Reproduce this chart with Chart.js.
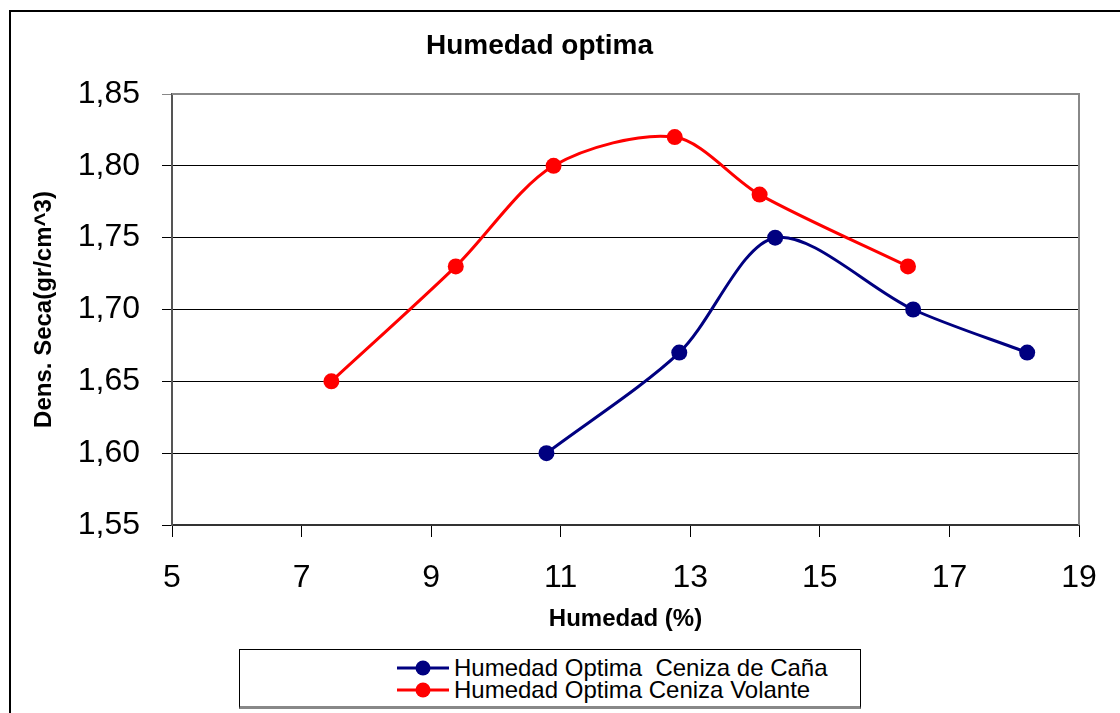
<!DOCTYPE html>
<html>
<head>
<meta charset="utf-8">
<title>Humedad optima</title>
<script src="https://cdn.jsdelivr.net/npm/chart.js@4.4.0/dist/chart.umd.min.js"></script>
<style>
  html, body { margin: 0; padding: 0; background: #fff; width: 1120px; height: 713px; overflow: hidden; }
  #frame  { position: absolute; left: 9px; top: 10px; width: 1200px; height: 800px;
            border-left: 2px solid #000; border-top: 2px solid #000; }
  #wrap   { position: absolute; left: 0; top: 0; width: 1120px; height: 713px; }
  #legend { position: absolute; left: 239px; top: 649px; width: 622px; height: 60px; box-sizing: border-box;
            border: 1px solid #000; border-bottom: 3px solid #888; background: #fff; padding-top: 7px;
            font-family: "Liberation Sans", Arial, sans-serif; font-size: 24px; color: #000; }
  .leg-row { display: flex; align-items: center; height: 22px; padding-left: 157px; white-space: pre; }
  .leg-row svg { margin-right: 5px; flex: none; }
</style>
</head>
<body>
<div id="frame"></div>
<div id="wrap"><canvas id="chart" width="1120" height="713"></canvas></div>
<div id="legend"></div>

<script>
/* ── DATA ───────────────────────────────────────────────────────────── */
const chartTitle  = 'Humedad optima';
const xTitle      = 'Humedad (%)';
const yTitle      = 'Dens. Seca(gr/cm^3)';

const nameCana    = 'Humedad Optima  Ceniza de Caña';
const humCana     = [10.78, 12.83, 14.31, 16.44, 18.2];
const densCana    = [1.60, 1.67, 1.75, 1.70, 1.67];

const nameVolante = 'Humedad Optima Ceniza Volante';
const humVolante  = [7.46, 9.38, 10.89, 12.76, 14.07, 16.36];
const densVolante = [1.65, 1.73, 1.80, 1.82, 1.78, 1.73];

const xTicks      = [5, 7, 9, 11, 13, 15, 17, 19];
const yTicks      = [1.55, 1.60, 1.65, 1.70, 1.75, 1.80, 1.85];

/* ── SETUP ──────────────────────────────────────────────────────────── */
const FONT  = '"Liberation Sans", Arial, sans-serif';
const NAVY  = '#000080';
const RED   = '#ff0000';

const toPts = (xs, ys) => xs.map((x, i) => ({ x, y: ys[i] }));

const series = [
  { label: nameCana,    data: toPts(humCana, densCana),       color: NAVY },
  { label: nameVolante, data: toPts(humVolante, densVolante), color: RED  },
];

// gray frame on the top and right of the plot area
const plotFrame = {
  id: 'plotFrame',
  beforeDatasetsDraw(chart) {
    const { ctx, chartArea: a } = chart;
    ctx.save();
    ctx.strokeStyle = '#888';
    ctx.lineWidth = 2;
    ctx.beginPath();
    ctx.moveTo(a.left, a.top);
    ctx.lineTo(a.right, a.top);
    ctx.lineTo(a.right, a.bottom);
    ctx.stroke();
    ctx.restore();
  },
};

new Chart(document.getElementById('chart'), {
  type: 'scatter',
  data: {
    datasets: series.map(s => ({
      label: s.label,
      data: s.data,
      showLine: true,
      borderColor: s.color,
      backgroundColor: s.color,
      borderWidth: 3,
      tension: 0.3,
      pointRadius: 8,
      pointBorderWidth: 0,
      pointHoverRadius: 8,
    })),
  },
  options: {
    responsive: false,
    animation: false,
    layout: { padding: { left: 0, right: 41, top: 0, bottom: 0 } },
    plugins: {
      legend: { display: false },
      tooltip: { enabled: false },
      title: {
        display: true,
        text: chartTitle,
        color: '#000',
        font: { family: FONT, size: 28, weight: 'bold' },
        padding: { top: 29, bottom: 31.4 },
      },
    },
    scales: {
      x: {
        type: 'linear',
        min: xTicks[0], max: xTicks[xTicks.length - 1],
        afterBuildTicks: s => { s.ticks = xTicks.map(v => ({ value: v })); },
        afterFit: s => { s.height = 188; },
        ticks: { color: '#000', padding: 22, font: { family: FONT, size: 32 }, maxRotation: 0 },
        grid: { drawOnChartArea: false, drawTicks: true, tickLength: 12, color: '#000' },
        border: { display: true, color: '#333', width: 2 },
        title: {
          display: true, text: xTitle, color: '#000',
          font: { family: FONT, size: 24, weight: 'bold' },
          padding: { top: 0, bottom: 79 },
        },
      },
      y: {
        type: 'linear',
        min: yTicks[0], max: yTicks[yTicks.length - 1],
        afterBuildTicks: s => { s.ticks = yTicks.map(v => ({ value: v })); },
        afterFit: s => { s.width = 172; },
        ticks: {
          color: '#000', padding: 22, font: { family: FONT, size: 32 },
          callback: v => v.toFixed(2).replace('.', ','),
        },
        grid: {
          tickLength: 10, lineWidth: 1,
          color: c => (c.tick && c.tick.value >= yTicks[yTicks.length - 1] - 1e-9) ? '#888' : '#000',
        },
        border: { display: true, color: '#555', width: 2 },
        title: {
          display: true, text: yTitle, color: '#000',
          font: { family: FONT, size: 24, weight: 'bold' },
          padding: { top: 30, bottom: 0 },
        },
      },
    },
  },
  plugins: [plotFrame],
});

/* ── LEGEND ─────────────────────────────────────────────────────────── */
document.getElementById('legend').innerHTML = series.map(s => `
  <div class="leg-row">
    <svg width="52" height="20" viewBox="0 0 52 20">
      <line x1="0" y1="10" x2="52" y2="10" stroke="${s.color}" stroke-width="3"/>
      <circle cx="26" cy="10" r="7.5" fill="${s.color}"/>
    </svg><span>${s.label}</span>
  </div>`).join('');
</script>
</body>
</html>
